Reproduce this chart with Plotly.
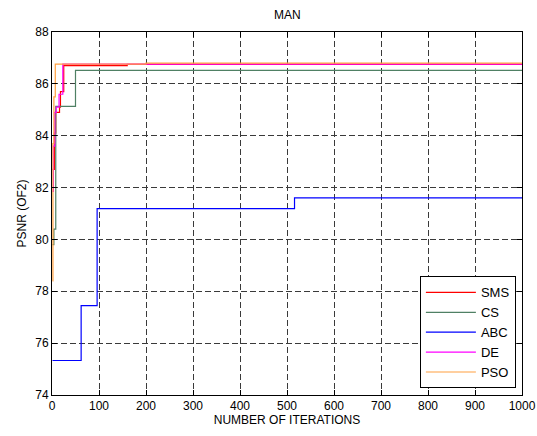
import plotly.graph_objects as go

# Data (iteration where value changes, value)
sms_x = [1, 5, 8, 16, 18, 25, 160, 1000]
sms_y = [82.7, 84.1, 84.9, 85.1, 85.7, 86.70, 86.75, 86.75]

cs_x = [1, 4, 8, 50, 1000]
cs_y = [79.8, 80.4, 85.13, 86.52, 86.52]

abc_x = [1, 62, 96, 516, 1000]
abc_y = [75.33, 77.45, 81.19, 81.60, 81.60]

de_x = [1, 3, 6, 9, 15, 23, 1000]
de_y = [81.85, 83.6, 84.9, 85.1, 85.6, 86.76, 86.76]

pso_x = [1, 2, 4, 7, 200, 1000]
pso_y = [78.4, 83.7, 85.5, 86.76, 86.80, 86.80]

series = [
    ("SMS", sms_x, sms_y, "#ff0000"),
    ("CS", cs_x, cs_y, "#4f8064"),
    ("ABC", abc_x, abc_y, "#0000ff"),
    ("DE", de_x, de_y, "#ff00ff"),
    ("PSO", pso_x, pso_y, "#ffa040"),
]

x_ticks = list(range(0, 1001, 100))
y_ticks = list(range(74, 89, 2))

FONT = "Liberation Sans, Arial, sans-serif"

fig = go.Figure()
for name, xs, ys, col in series:
    fig.add_trace(go.Scatter(x=xs, y=ys, mode="lines", name=name,
                             line=dict(color=col, width=1.2, shape="hv")))

axis_common = dict(
    showline=True, linecolor="black", linewidth=1, mirror="ticks",
    ticks="inside", ticklen=5, tickcolor="black", automargin=False,
    showgrid=True, gridcolor="#3a3a3a", gridwidth=1, griddash="6px,3px",
    zeroline=False, tickfont=dict(family=FONT, size=12, color="black"),
)

fig.update_xaxes(range=[0, 1000], tickvals=x_ticks,
                 title=dict(text="NUMBER OF ITERATIONS", standoff=2,
                            font=dict(family=FONT, size=12, color="black")),
                 **axis_common)
fig.update_yaxes(range=[74, 88], tickvals=y_ticks,
                 title=dict(text="PSNR (OF2)", standoff=6,
                            font=dict(family=FONT, size=12, color="black")),
                 **axis_common)

fig.update_layout(
    width=537, height=436,
    margin=dict(l=52, r=15, t=32, b=41),
    paper_bgcolor="white", plot_bgcolor="white",
    title=dict(text="MAN", x=0.535, xanchor="center", y=0.965, yanchor="middle",
               font=dict(family=FONT, size=12, color="black")),
    legend=dict(x=0.987, xanchor="right", y=0.018, yanchor="bottom",
                bgcolor="white", bordercolor="black", borderwidth=1,
                font=dict(family=FONT, size=13, color="black"),
                tracegroupgap=0, itemwidth=50),
    showlegend=True,
)

fig.write_html("out.html")
